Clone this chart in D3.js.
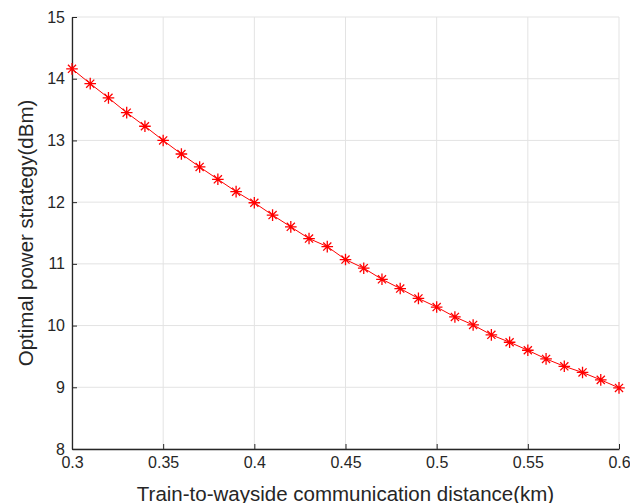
<!DOCTYPE html>
<html><head><meta charset="utf-8">
<script src="https://cdn.jsdelivr.net/npm/d3@7"></script>
<style>body{margin:0;background:#fff;} svg{display:block;font-family:"Liberation Sans",Arial,sans-serif;}</style>
</head><body>
<svg id="c" width="630" height="503"></svg>
<script>
const distances = [0.30,0.31,0.32,0.33,0.34,0.35,0.36,0.37,0.38,0.39,0.40,0.41,0.42,0.43,0.44,0.45,0.46,0.47,0.48,0.49,0.50,0.51,0.52,0.53,0.54,0.55,0.56,0.57,0.58,0.59,0.60];
const power = [14.16,13.92,13.69,13.45,13.23,13.00,12.78,12.57,12.37,12.17,11.99,11.79,11.60,11.41,11.28,11.07,10.93,10.75,10.60,10.44,10.30,10.14,10.01,9.85,9.73,9.60,9.46,9.34,9.24,9.12,8.99];
const xTicks = [0.3,0.35,0.4,0.45,0.5,0.55,0.6];
const yTicks = [8,9,10,11,12,13,14,15];
const xLabel = "Train-to-wayside communication distance(km)";
const yLabel = "Optimal power strategy(dBm)";

const svg = d3.select("#c");
const L=72, R=619, T=17, B=449;
const x = d3.scaleLinear().domain([0.3,0.6]).range([L,R]);
const y = d3.scaleLinear().domain([8,15]).range([B,T]);

// grid
svg.append("g").selectAll("line").data(xTicks).join("line")
  .attr("x1",d=>x(d)).attr("x2",d=>x(d)).attr("y1",T).attr("y2",B)
  .attr("stroke","#e3e3e3").attr("stroke-width",1);
svg.append("g").selectAll("line").data(yTicks).join("line")
  .attr("x1",L).attr("x2",R).attr("y1",d=>y(d)).attr("y2",d=>y(d))
  .attr("stroke","#e3e3e3").attr("stroke-width",1);

// axes
const ax = svg.append("g").attr("transform",`translate(0,${B})`)
  .call(d3.axisBottom(x).tickValues(xTicks).tickFormat(d=>String(+d.toFixed(2))).tickSizeInner(-5).tickSizeOuter(0).tickPadding(8));
const ay = svg.append("g").attr("transform",`translate(${L},0)`)
  .call(d3.axisLeft(y).tickValues(yTicks).tickFormat(d=>String(d)).tickSizeInner(-5).tickSizeOuter(0).tickPadding(7));
[ax,ay].forEach(g=>{
  g.select(".domain").attr("stroke","#262626").attr("stroke-width",1.3);
  g.selectAll(".tick line").attr("stroke","#262626");
  g.selectAll(".tick text").attr("fill","#262626").attr("font-size",16).attr("font-family","Liberation Sans, Arial, sans-serif");
});

// line
svg.append("path").datum(distances.map((d,i)=>[d,power[i]]))
  .attr("fill","none").attr("stroke","#ff0000").attr("stroke-width",1)
  .attr("d",d3.line().x(d=>x(d[0])).y(d=>y(d[1])));

// asterisk markers
const s=5.8;
const mk = svg.append("g").selectAll("g").data(distances.map((d,i)=>[d,power[i]])).join("g")
  .attr("transform",d=>`translate(${x(d[0])},${y(d[1])})`);
mk.append("path")
  .attr("d",`M${-s},0H${s}M0,${-s}V${s}M${-s*0.7},${-s*0.7}L${s*0.7},${s*0.7}M${-s*0.7},${s*0.7}L${s*0.7},${-s*0.7}`)
  .attr("stroke","#ff0000").attr("stroke-width",1.3).attr("fill","none");

// labels
svg.append("text").attr("x",(L+R)/2).attr("y",501).attr("text-anchor","middle")
  .attr("font-size",20.5).attr("fill","#262626").text(xLabel);
svg.append("text").attr("transform",`translate(33,${(T+B)/2}) rotate(-90)`).attr("text-anchor","middle")
  .attr("font-size",20.5).attr("fill","#262626").text(yLabel);
</script>
</body></html>
